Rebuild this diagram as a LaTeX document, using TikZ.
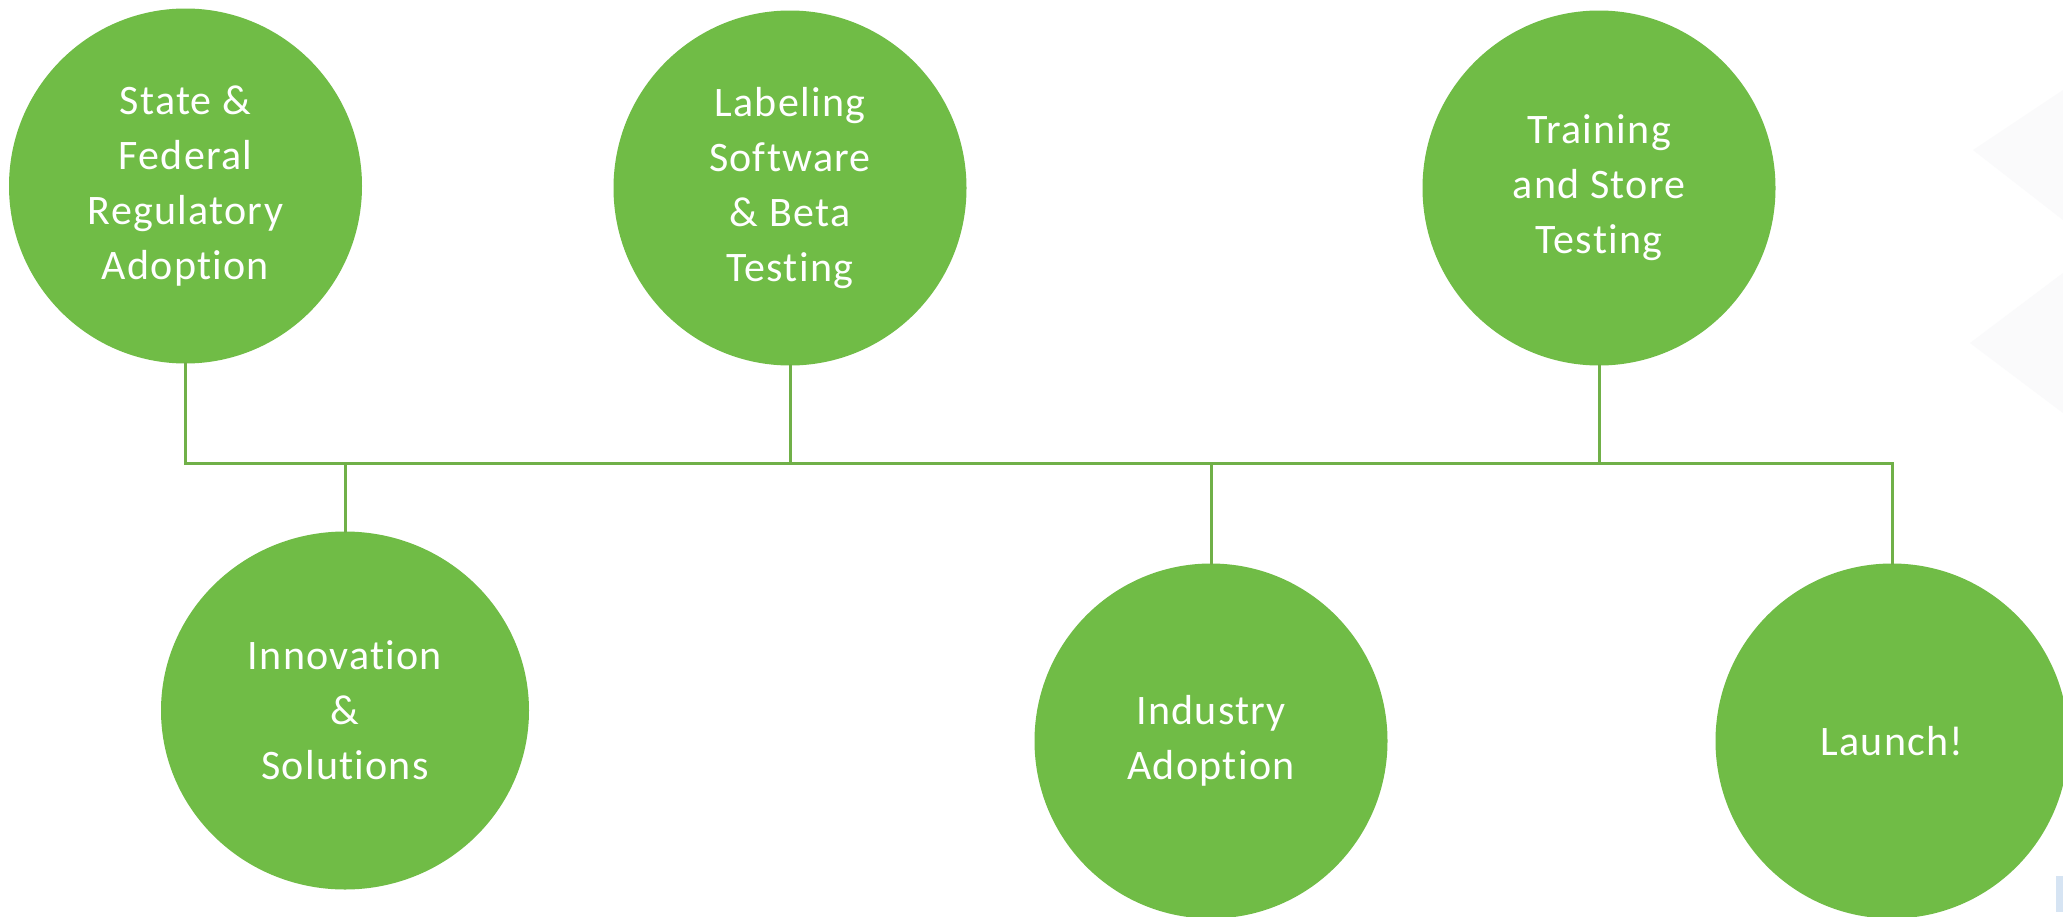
\documentclass[tikz,border=0pt]{standalone}
\usepackage{fontspec}
\setmainfont{Carlito}[LetterSpace=3, Ligatures={NoCommon}]
\usetikzlibrary{shapes.geometric}
\definecolor{leaf}{RGB}{112,188,70}
\definecolor{stem}{RGB}{112,176,72}
\definecolor{haze}{RGB}{250,250,251}
\definecolor{chip}{RGB}{214,228,243}
\tikzset{
  milestone/.style={ellipse, fill=leaf, text=white, align=center, inner sep=0pt,
    minimum width=353pt, minimum height=355pt,
    font=\fontsize{42}{55}\selectfont},
  link/.style={draw=stem, line width=3pt, line cap=rect, line join=miter},
}
\begin{document}
\begin{tikzpicture}[x=1pt,y=-1pt]
  % canvas
  \fill[white] (0,0) rectangle (2063,916);
  \useasboundingbox (0,0) rectangle (2063,916);
  % faint background facets
  \fill[haze] (1973,150) -- (2063,90) -- (2063,220) -- cycle;
  \fill[haze] (1970,343) -- (2063,273) -- (2063,413) -- cycle;
  \fill[chip] (2056,876) rectangle (2063,912);

  % milestones
  \node[milestone] (reg)    at (185.5,186) {State \&\\Federal\\Regulatory\\Adoption};
  \node[milestone] (label)  at (790,188)   {Labeling\\Software\\\& Beta\\Testing};
  \node[milestone] (train)  at (1599,188)  {Training\\and Store\\Testing};
  \node[milestone, minimum width=368pt, minimum height=358pt] (innov) at (345,710.5) {Innovation\\\&\\Solutions};
  \node[milestone] (industry) at (1211,741) {Industry\\Adoption};
  \node[milestone] (launch)   at (1892,741) {Launch!};

  % timeline bus
  \coordinate (bus) at (0,463);
  \draw[link] (reg.south) -- (reg.south |- bus) -- (bus -| launch.north) -- (launch.north);
  \draw[link] (label.south) -- (label.south |- bus);
  \draw[link] (train.south) -- (train.south |- bus);
  \draw[link] (innov.north) -- (innov.north |- bus);
  \draw[link] (industry.north) -- (industry.north |- bus);
\end{tikzpicture}
\end{document}
